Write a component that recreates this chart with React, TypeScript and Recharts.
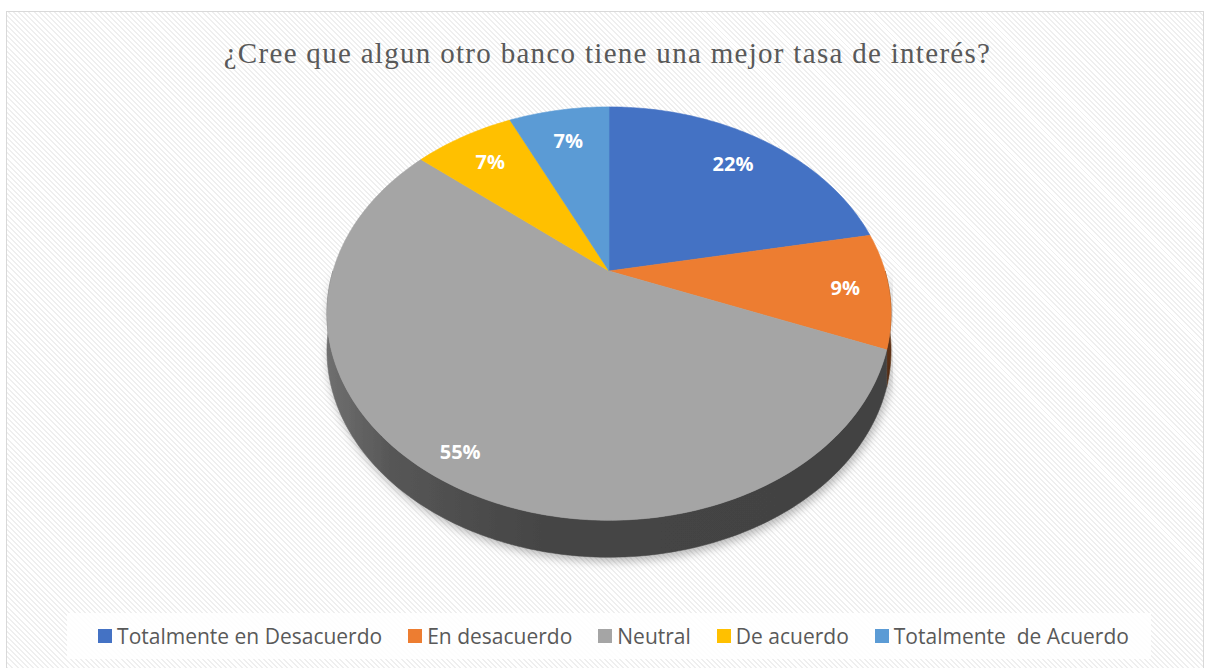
import React from "react";
import { Cell, Legend, Pie, PieChart } from "recharts";

const TITLE = "¿Cree que algun otro banco tiene una mejor tasa de interés?";
const CATEGORIES = [
  "Totalmente en Desacuerdo",
  "En desacuerdo",
  "Neutral",
  "De acuerdo",
  "Totalmente  de Acuerdo",
];
const PERCENTS = [22, 9, 55, 7, 7];
const COLORS = ["#4472C4", "#ED7D31", "#A5A5A5", "#FFC000", "#5B9BD5"];

const data = CATEGORIES.map((name, i) => ({ name, value: PERCENTS[i] }));

const W = 1205;
const H = 668;
const CX = 609;
const CY = 271;
const RADIUS = 276;
// fake 3D: vertical squash, perspective strength, rim depth
const TILT = 0.717;
const PERSP = 0.206;
const DEPTH = 37;

const rad = (d: number) => (d * Math.PI) / 180;

function project(cx: number, cy: number, r: number, deg: number, f = 1, dy = 0) {
  const u = f * Math.cos(rad(deg));
  const v = f * Math.sin(rad(deg));
  const s = 1 / (1 + PERSP * v);
  return [cx + r * u * s, cy - r * TILT * v * s + dy];
}

function arcPoints(cx: number, cy: number, r: number, a1: number, a2: number, dy = 0) {
  const n = Math.max(2, Math.ceil(Math.abs(a2 - a1)));
  const pts: number[][] = [];
  for (let i = 0; i <= n; i++) {
    pts.push(project(cx, cy, r, a1 + ((a2 - a1) * i) / n, 1, dy));
  }
  return pts;
}

const toPath = (pts: number[][]) => pts.map((p) => `${p[0].toFixed(2)},${p[1].toFixed(2)}`).join(" L");

function shade(hex: string, k: number) {
  const n = parseInt(hex.slice(1), 16);
  const c = [(n >> 16) & 255, (n >> 8) & 255, n & 255].map((x) => Math.round(Math.min(255, x * k)));
  return `rgb(${c[0]},${c[1]},${c[2]})`;
}

function TopFace(props: any) {
  const { cx, cy, outerRadius, startAngle, endAngle, fill } = props;
  const pts = arcPoints(cx, cy, outerRadius, startAngle, endAngle);
  return <path d={`M${cx},${cy} L${toPath(pts)} Z`} fill={fill} stroke={fill} strokeWidth={0.6} />;
}

function SideFace(props: any) {
  const { cx, cy, outerRadius, startAngle, endAngle, fill, index } = props;
  const lo = Math.min(startAngle, endAngle);
  const hi = Math.max(startAngle, endAngle);
  const parts: number[][] = [];
  for (let k = -1; k <= 1; k++) {
    const a = Math.max(lo, -180 + 360 * k);
    const b = Math.min(hi, 360 * k);
    if (b > a) parts.push([a, b]);
  }
  if (!parts.length) return <g />;
  const gid = `side-grad-${index}`;
  const x1 = cx - outerRadius * 1.03;
  const x2 = cx + outerRadius * 1.03;
  return (
    <g>
      <defs>
        <linearGradient id={gid} gradientUnits="userSpaceOnUse" x1={x1} y1={0} x2={x2} y2={0}>
          <stop offset="0%" stopColor={shade(fill, 0.68)} />
          <stop offset="12%" stopColor={shade(fill, 0.52)} />
          <stop offset="38%" stopColor={shade(fill, 0.42)} />
          <stop offset="100%" stopColor={shade(fill, 0.4)} />
        </linearGradient>
        <filter id="pie-shadow" x="-20%" y="-20%" width="140%" height="160%">
          <feDropShadow dx="2" dy="4" stdDeviation="5" floodColor="#000" floodOpacity="0.28" />
        </filter>
      </defs>
      {parts.map(([a, b], i) => {
        const top = arcPoints(cx, cy, outerRadius, a, b);
        const bottom = arcPoints(cx, cy, outerRadius, b, a, DEPTH);
        return (
          <path
            key={i}
            d={`M${toPath(top)} L${toPath(bottom)} Z`}
            fill={`url(#${gid})`}
            stroke={`url(#${gid})`}
            strokeWidth={0.6}
            filter="url(#pie-shadow)"
          />
        );
      })}
    </g>
  );
}

function renderLabel(props: any) {
  const { cx, cy, outerRadius, midAngle, value } = props;
  const v = Math.sin(rad(midAngle));
  const [x, y] = project(cx, cy, outerRadius, midAngle, 0.84 - 0.06 * v);
  return (
    <text
      x={x}
      y={y}
      fill="#fff"
      fontSize={20}
      fontWeight={700}
      fontFamily="'Open Sans', sans-serif"
      textAnchor="middle"
      dominantBaseline="central"
    >
      {`${value}%`}
    </text>
  );
}

function renderLegend(props: any) {
  const items = (props.payload || [])
    .filter((p: any) => p.type !== "none")
    .slice()
    .sort((a: any, b: any) => CATEGORIES.indexOf(a.value) - CATEGORIES.indexOf(b.value));
  return (
    <div
      style={{
        display: "flex",
        justifyContent: "center",
        alignItems: "center",
        gap: 26,
        height: "100%",
        paddingLeft: 9,
        boxSizing: "border-box",
        fontFamily: "'Open Sans', sans-serif",
        fontSize: 21,
        color: "#595959",
        whiteSpace: "pre",
      }}
    >
      {items.map((p: any) => (
        <div key={p.value} style={{ display: "flex", alignItems: "center" }}>
          <span style={{ width: 14, height: 14, background: p.color, marginRight: 5, display: "inline-block" }} />
          <span>{p.value}</span>
        </div>
      ))}
    </div>
  );
}

export default function App() {
  return (
    <div style={{ position: "absolute", left: 0, top: 0, width: W, height: H, background: "#fff", overflow: "hidden" }}>
      <div
        style={{
          position: "absolute",
          left: 6,
          top: 11,
          width: 1196,
          height: 700,
          border: "1.5px solid #d9d9d9",
          background: "repeating-linear-gradient(45deg, #ffffff 0px, #ffffff 2.2px, #efefef 2.2px, #efefef 3.6px)",
        }}
      />
      <div
        style={{
          position: "absolute",
          left: 0,
          width: 1215,
          top: 35,
          textAlign: "center",
          fontFamily: "'Liberation Serif', 'Times New Roman', serif",
          fontSize: 29,
          letterSpacing: 1.3,
          color: "#595959",
          lineHeight: "36px",
        }}
      >
        {TITLE}
      </div>
      <div style={{ position: "absolute", left: 0, top: 0 }}>
        <PieChart width={W} height={H} margin={{ top: 0, right: 0, bottom: 0, left: 0 }}>
          <Pie
            data={data}
            dataKey="value"
            nameKey="name"
            cx={CX}
            cy={CY}
            outerRadius={RADIUS}
            startAngle={90}
            endAngle={-270}
            isAnimationActive={false}
            legendType="none"
            shape={SideFace}
            activeShape={SideFace}
            inactiveShape={SideFace}
          >
            {data.map((d, i) => (
              <Cell key={d.name} fill={COLORS[i]} />
            ))}
          </Pie>
          <Pie
            data={data}
            dataKey="value"
            nameKey="name"
            cx={CX}
            cy={CY}
            outerRadius={RADIUS}
            startAngle={90}
            endAngle={-270}
            isAnimationActive={false}
            legendType="square"
            shape={TopFace}
            activeShape={TopFace}
            inactiveShape={TopFace}
            label={renderLabel}
            labelLine={false}
          >
            {data.map((d, i) => (
              <Cell key={d.name} fill={COLORS[i]} />
            ))}
          </Pie>
          <Legend
            content={renderLegend}
            wrapperStyle={{
              position: "absolute",
              left: 67,
              top: 613,
              bottom: "auto",
              width: 1084,
              height: 46,
              background: "rgba(255,255,255,0.85)",
            }}
          />
        </PieChart>
      </div>
    </div>
  );
}
